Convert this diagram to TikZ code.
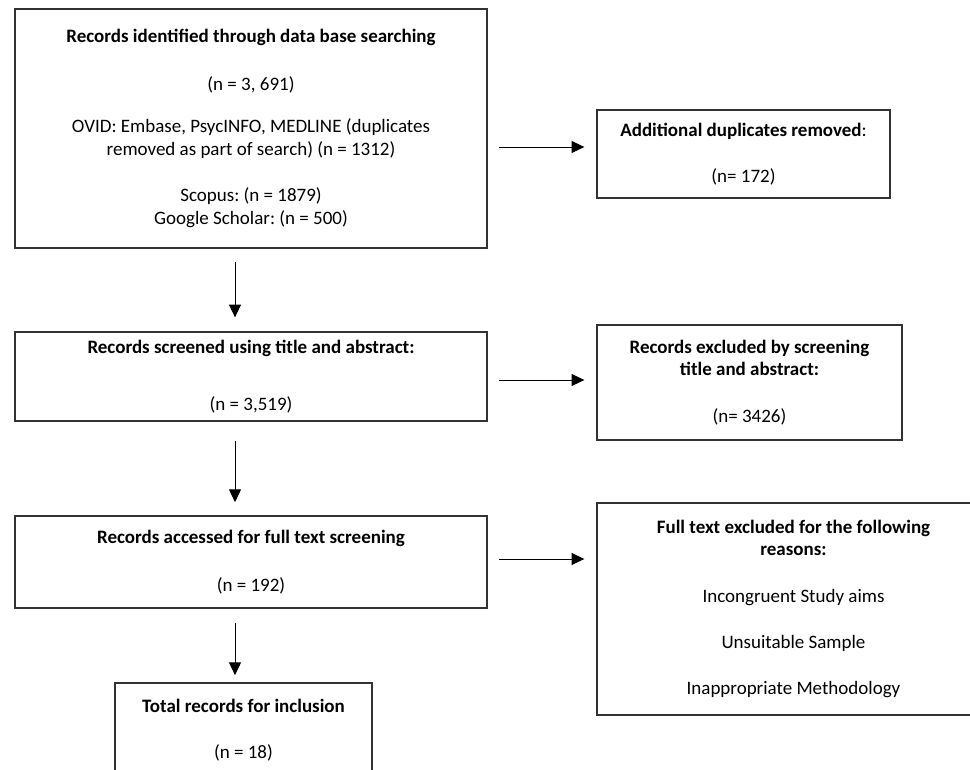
\documentclass[tikz,border=0pt]{standalone}
\usepackage{fontspec}
\setmainfont{Carlito}
\frenchspacing
\usetikzlibrary{arrows.meta}

\begin{document}
\begin{tikzpicture}[x=0.025cm,y=-0.025cm,
    box/.style={draw=black!80,line width=0.9pt,align=center,inner sep=0pt,font=\fontsize{13.5}{16}\selectfont},
    arr/.style={line width=0.7pt,-{Triangle[length=0.32cm,width=0.3cm]}}]
    \useasboundingbox (0,0) rectangle (970,769);
    \clip (0,0) rectangle (970,769);
    % left column
    \node at (251,128.5) [box,minimum width=11.8cm,minimum height=5.975cm] (ident) {\textbf{Records identified through data base searching}\\[18pt](n = 3, 691)\\[14pt]OVID: Embase, PsycINFO, MEDLINE (duplicates\\removed as part of search) (n = 1312)\\[17pt]Scopus: (n = 1879)\\Google Scholar: (n = 500)};
    \node at (251,376.5) [box,minimum width=11.8cm,minimum height=2.225cm] (scr) {\textbf{Records screened using title and abstract:}\\[25pt](n = 3,519)};
    \node at (251,562) [box,minimum width=11.8cm,minimum height=2.3cm] (full) {\textbf{Records accessed for full text screening}\\[18pt](n = 192)};
    \node at (243.5,730) [box,minimum width=6.425cm,minimum height=2.35cm] (incl) {\textbf{Total records for inclusion}\\[17pt](n = 18)};
    % right column
    \node at (743.5,154) [box,minimum width=7.325cm,minimum height=2.2cm] (dup) {\textbf{Additional duplicates removed}:\\[17pt](n= 172)};
    \node at (749.5,382.5) [box,minimum width=7.625cm,minimum height=2.875cm] (excl) {\textbf{Records excluded by screening}\\\textbf{title and abstract:}\\[17pt](n= 3426)};
    \node at (793.5,609) [box,minimum width=9.825cm,minimum height=5.3cm] (reas) {\textbf{Full text excluded for the following}\\\textbf{reasons:}\\[17pt]Incongruent Study aims\\[17pt]Unsuitable Sample\\[17pt]Inappropriate Methodology};
    \coordinate (r1) at (0,147);
    \coordinate (r2) at (0,380);
    \coordinate (r3) at (0,559);
    \coordinate (d) at (235,0);
    \draw[arr,shorten <=0.28cm,shorten >=0.3cm] (ident.east |- r1) -- (dup.west |- r1);
    \draw[arr,shorten <=0.28cm,shorten >=0.3cm] (scr.east |- r2) -- (excl.west |- r2);
    \draw[arr,shorten <=0.28cm,shorten >=0.3cm] (full.east |- r3) -- (reas.west |- r3);
    \draw[arr,shorten <=0.33cm,shorten >=0.35cm] (ident.south -| d) -- (scr.north -| d);
    \draw[arr,shorten <=0.48cm,shorten >=0.33cm] (scr.south -| d) -- (full.north -| d);
    \draw[arr,shorten <=0.35cm,shorten >=0.18cm] (full.south -| d) -- (incl.north -| d);
\end{tikzpicture}
\end{document}
